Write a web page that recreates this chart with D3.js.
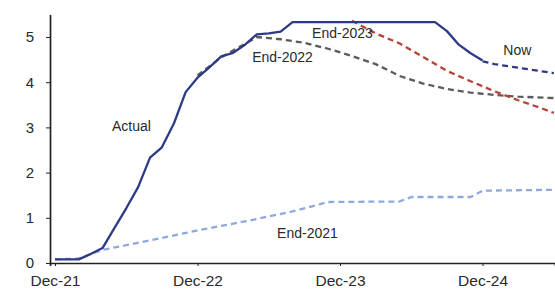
<!DOCTYPE html>
<head>
  <meta charset="utf-8">
  <title>Policy rate paths</title>
  <script src="https://cdn.jsdelivr.net/npm/d3@7"></script>
  <style>
    body { margin: 0; background: #fff; }
    text { font-family: "Liberation Sans", Arial, sans-serif; fill: #2a2a2a; }
  </style>
</head>
<body>
  <svg width="555" height="293"></svg>

  <script>
  // months counted from Dec-21 (= 0)
  var actualMonths = d3.range(0, 37);
  var actualValues = [0.08, 0.08, 0.08, 0.20, 0.33, 0.77, 1.21, 1.68, 2.33, 2.56, 3.08, 3.78,
                      4.10, 4.33, 4.57, 4.65, 4.83, 5.06, 5.08, 5.12, 5.33, 5.33, 5.33, 5.33,
                      5.33, 5.33, 5.33, 5.33, 5.33, 5.33, 5.33, 5.33, 5.33, 5.13, 4.83, 4.64, 4.48];

  var end2021Months = [0, 2, 4, 8, 12, 16, 20, 23, 29, 30, 35, 36, 42];
  var end2021Values = [0.08, 0.10, 0.29, 0.50, 0.72, 0.92, 1.14, 1.35, 1.36, 1.46, 1.46, 1.60, 1.62];

  var end2022Months = [12, 14, 16, 17, 19, 21, 23, 25, 27, 29, 31, 33, 35, 37, 39, 42];
  var end2022Values = [4.15, 4.55, 4.85, 5.00, 4.95, 4.87, 4.74, 4.58, 4.40, 4.14, 3.97, 3.85, 3.77, 3.72, 3.68, 3.65];

  var end2023Months = [25, 27, 29, 31, 33, 35, 37, 39, 41, 42];
  var end2023Values = [5.36, 5.08, 4.86, 4.56, 4.25, 4.02, 3.80, 3.60, 3.42, 3.32];

  var nowMonths = [36, 37, 39, 41, 42];
  var nowValues = [4.46, 4.40, 4.32, 4.24, 4.20];

  var tickMonths = [0, 12, 24, 36];
  var tickLabels = ["Dec-21", "Dec-22", "Dec-23", "Dec-24"];
  var yTicks = [0, 1, 2, 3, 4, 5];

  var svg = d3.select("svg"),
      width = +svg.attr("width"),
      height = +svg.attr("height");

  var x = d3.scaleLinear()
      .domain([-0.42, 42.1])
      .range([50, 555]);

  var y = d3.scaleLinear()
      .domain([0, 5.5])
      .range([263, 14.4]);

  function pairs(ms, vs) {
    return ms.map(function(m, i) { return [m, vs[i]]; });
  }

  var line = d3.line()
      .x(function(d) { return x(d[0]); })
      .y(function(d) { return y(d[1]); });

  var series = [
    {data: pairs(end2021Months, end2021Values), color: "#8ea9dd", dash: "6,4"},
    {data: pairs(end2022Months, end2022Values), color: "#5b5b5b", dash: "6,4"},
    {data: pairs(end2023Months, end2023Values), color: "#b8423a", dash: "6,4"},
    {data: pairs(nowMonths, nowValues), color: "#2d3a86", dash: "6,4"},
    {data: pairs(actualMonths, actualValues), color: "#2d3a86", dash: null}
  ];

  svg.append("g")
    .selectAll("path")
    .data(series)
    .enter().append("path")
      .attr("fill", "none")
      .attr("stroke", function(d) { return d.color; })
      .attr("stroke-width", 2.3)
      .attr("stroke-dasharray", function(d) { return d.dash; })
      .attr("stroke-linejoin", "round")
      .attr("d", function(d) { return line(d.data); });

  // axes
  var xAxis = svg.append("g")
      .attr("transform", "translate(0," + y(0) + ")")
      .call(d3.axisBottom(x)
        .tickValues(tickMonths)
        .tickFormat(function(d, i) { return tickLabels[i]; })
        .tickSize(3)
        .tickPadding(9));
  xAxis.select(".domain").attr("stroke", "#222").attr("stroke-width", 1.7);
  xAxis.selectAll("line").attr("stroke", "#222");
  xAxis.selectAll("text").attr("font-size", 15.5).attr("fill", "#2a2a2a")
      .style("font-family", "Liberation Sans, Arial, sans-serif");

  var yAxis = svg.append("g")
      .attr("transform", "translate(50,0)")
      .call(d3.axisLeft(y)
        .tickValues(yTicks)
        .tickFormat(d3.format("d"))
        .tickSizeInner(4)
        .tickSizeOuter(0)
        .tickPadding(12));
  yAxis.select(".domain").attr("stroke", "#222").attr("stroke-width", 1.7);
  yAxis.selectAll("line").attr("stroke", "#222");
  yAxis.selectAll("text").attr("font-size", 15).attr("fill", "#2a2a2a")
      .style("font-family", "Liberation Sans, Arial, sans-serif");

  // series labels
  var labels = [
    {text: "Actual", m: 4.8, v: 2.92},
    {text: "End-2022", m: 16.6, v: 4.45},
    {text: "End-2023", m: 21.65, v: 4.98},
    {text: "Now", m: 37.75, v: 4.6},
    {text: "End-2021", m: 18.7, v: 0.55}
  ];
  svg.append("g")
    .selectAll("text")
    .data(labels)
    .enter().append("text")
      .attr("x", function(d) { return x(d.m); })
      .attr("y", function(d) { return y(d.v); })
      .attr("font-size", 14)
      .attr("fill", "#2a2a2a")
      .text(function(d) { return d.text; });
  </script>
</body>
